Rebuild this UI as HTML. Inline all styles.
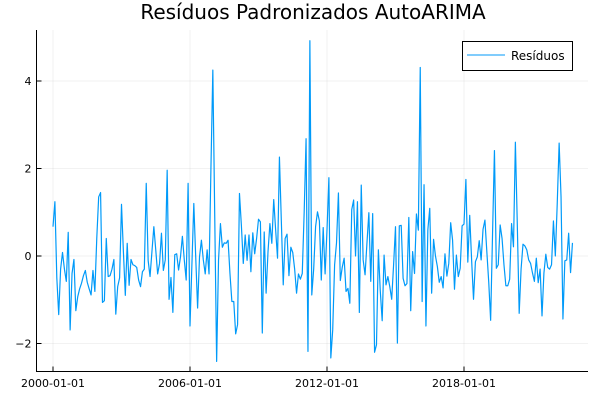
<!DOCTYPE html>
<html><head><meta charset="utf-8"><style>
html,body{margin:0;padding:0;background:#fff;}
svg{display:block;font-family:"DejaVu Sans","Liberation Sans",sans-serif;}
</style></head><body>
<svg id="chart" width="600" height="400" viewBox="0 0 600 400">
<rect width="600" height="400" fill="#fff"/>
<text x="313" y="19" text-anchor="middle" font-size="20" fill="#000">Resíduos Padronizados AutoARIMA</text>
<g id="grid"></g>
<g id="series"></g>
<g id="axes"></g>
<g>
<rect x="462.5" y="41.5" width="110" height="29" fill="#fff" stroke="#000" stroke-width="1"/>
<line x1="467" y1="55" x2="505" y2="55" stroke="#009af9" stroke-width="1"/>
<text x="511" y="60" font-size="12" fill="#000">Resíduos</text>
</g>
</svg>
<script>
const startYear = 2000;
const residuals = [
0.67,1.24,-0.5,-1.34,-0.3,0.08,-0.3,-0.58,0.54,-1.69,
-0.4,-0.08,-1.25,-0.93,-0.75,-0.62,-0.45,-0.33,-0.6,-0.75,
-0.89,-0.33,-0.81,0.4,1.35,1.45,-1.06,-1.02,0.4,-0.47,
-0.45,-0.3,-0.08,-1.33,-0.7,-0.5,1.18,0.1,-0.9,0.29,
-0.67,-0.08,-0.2,-0.22,-0.26,-0.55,-0.7,-0.36,-0.3,1.66,
-0.1,-0.47,0.1,0.67,0.14,-0.41,-0.17,0.52,-0.33,-0.09,
1.96,-0.99,-0.49,-1.29,0.03,0.05,-0.32,-0.02,0.45,-0.09,
-0.55,1.66,-1.6,-0.2,1.2,-0.02,-1.19,-0.02,0.36,-0.09,
-0.41,0.14,-0.41,2.0,4.25,0.9,-2.41,-0.09,0.74,0.2,
0.3,0.29,0.36,-0.4,-1.04,-1.04,-1.78,-1.57,1.43,0.7,
-0.17,0.48,-0.1,0.48,-0.36,0.53,0.05,0.4,0.84,0.78,
-1.76,0.55,-0.85,0.1,0.74,0.29,1.29,0.6,-0.05,2.26,
0.8,-0.66,0.4,0.5,-0.45,0.2,0.08,-0.3,-0.85,-0.41,
-0.53,-0.4,1.0,2.68,-2.18,4.92,-0.89,-0.3,0.67,1.01,
0.8,-0.55,0.65,-0.41,0.6,1.79,-2.33,-1.69,-0.2,0.3,
1.44,-0.56,-0.26,-0.05,-0.81,-0.74,-1.08,1.06,1.28,0.0,
1.24,-1.29,1.62,-0.09,-0.43,0.3,0.99,-0.58,0.97,-2.2,
-2.03,0.14,-0.8,-1.48,0.02,-0.66,-0.47,-0.7,-0.99,-0.2,
0.67,-1.99,0.69,0.7,-0.51,-0.68,-0.63,0.88,-1.25,0.1,
-0.4,0.96,0.59,4.31,-1.04,1.63,-1.6,0.6,1.09,-0.85,
0.38,0.0,-0.24,-0.6,-0.47,-0.73,0.05,-0.46,-0.17,0.76,
0.36,-0.76,0.02,-0.47,-0.28,0.69,0.73,1.75,-0.14,0.93,
-0.09,-0.99,-0.13,-0.02,0.35,-0.09,0.61,0.82,0.1,-0.6,
-1.47,0.5,2.41,-0.28,-0.2,0.71,0.4,-0.2,-0.68,-0.68,
-0.53,0.74,0.21,2.6,0.74,-1.31,-0.3,0.27,0.23,0.14,
-0.09,-0.17,-0.39,-0.58,-0.05,-0.61,-0.3,-1.37,-0.39,0.04,
-0.26,-0.3,-0.2,0.8,0.0,1.2,2.58,1.35,-1.44,-0.11,
-0.09,0.52,-0.38,0.3
];
const yTicks = [-2, 0, 2, 4];
const xTickLabels = ["2000-01-01", "2006-01-01", "2012-01-01", "2018-01-01"];
const xTickMonths = [0, 72, 144, 216];

const NS = "http://www.w3.org/2000/svg";
const L = 36.5, R = 588, T = 30, B = 371.5;
function xScale(m){ return 53 + m * (137 / 72); }
function yScale(v){ return 256 - v * 43.75; }
function mk(tag, attrs, parent){ const e = document.createElementNS(NS, tag); for (const k in attrs) e.setAttribute(k, attrs[k]); parent.appendChild(e); return e; }

const grid = document.getElementById('grid');
const axes = document.getElementById('axes');
const series = document.getElementById('series');

yTicks.forEach(v => {
  const y = yScale(v);
  const g = mk('line', {x1:L, x2:R, y1:y, y2:y, stroke:'#000', 'stroke-opacity':0.1, 'stroke-width':0.5}, grid);
  
  
  const t = mk('line', {x1:L, x2:L+5, y1:y, y2:y, stroke:'#000', 'stroke-width':1}, axes);
  
  
  const lb = mk('text', {x:L-5, y:y+4, 'text-anchor':'end', 'font-size':11, fill:'#000'}, axes);
  lb.textContent = v === -2 ? '\u22122' : String(v);
  
  
});
xTickMonths.forEach((m, i) => {
  const x = xScale(m);
  const g = mk('line', {x1:x, x2:x, y1:T, y2:B, stroke:'#000', 'stroke-opacity':0.1, 'stroke-width':0.5}, grid);
  
  
  const t = mk('line', {x1:x, x2:x, y1:B, y2:B-5, stroke:'#000', 'stroke-width':1}, axes);
  
  
  const lb = mk('text', {x:x, y:387, 'text-anchor':'middle', 'font-size':11, fill:'#000'}, axes);
  lb.textContent = xTickLabels[i];
  
  
});
const ax = mk('path', {d:`M${L},${T} L${L},${B} L${R},${B}`, fill:'none', stroke:'#000', 'stroke-width':1}, axes);



const d = residuals.map((v, i) => (i ? 'L' : 'M') + xScale(i).toFixed(2) + ',' + yScale(v).toFixed(2)).join(' ');
const line = mk('path', {d:d, fill:'none', stroke:'#009af9', 'stroke-width':1.2, 'stroke-linejoin':'round'}, series);


</script>
</body></html>
